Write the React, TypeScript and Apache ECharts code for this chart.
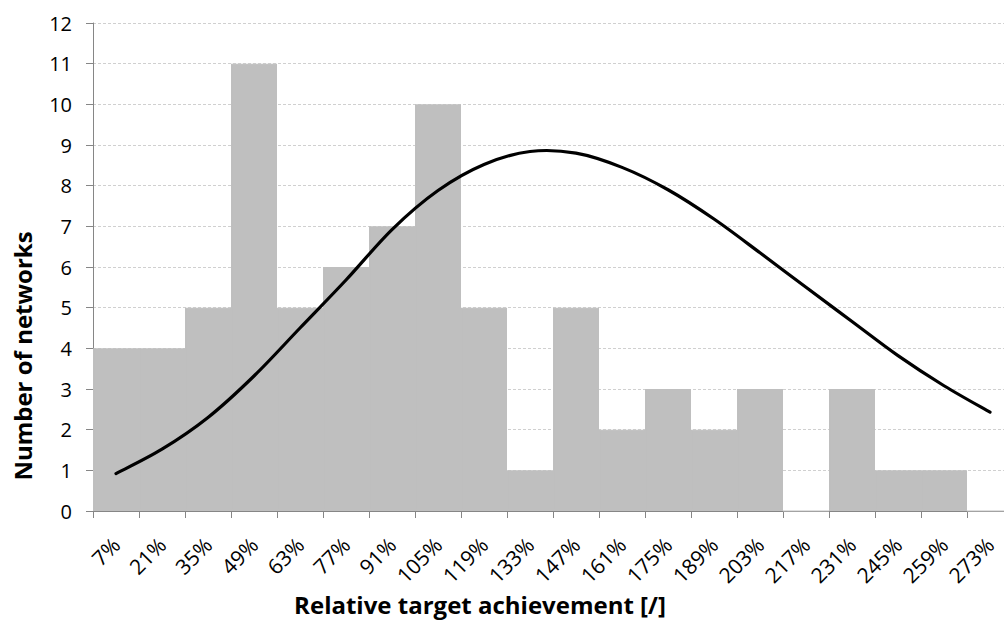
import React, { useEffect, useRef } from "react";
import * as echarts from "echarts";

const categories = ["7%", "21%", "35%", "49%", "63%", "77%", "91%", "105%", "119%", "133%", "147%", "161%", "175%", "189%", "203%", "217%", "231%", "245%", "259%", "273%"];
const counts = [4, 4, 5, 11, 5, 6, 7, 10, 5, 1, 5, 2, 3, 2, 3, 0, 3, 1, 1, 0];
const fitted = [0.92, 1.52, 2.3, 3.32, 4.5, 5.68, 6.92, 7.88, 8.52, 8.84, 8.8, 8.45, 7.9, 7.18, 6.35, 5.5, 4.66, 3.82, 3.08, 2.43];
const yTicks = { min: 0, max: 12, interval: 1 };

const FONT = '"Open Sans", "DejaVu Sans", sans-serif';

function curvePath(pts: number[][]): string {
  // Catmull-Rom spline converted to cubic Bezier segments
  let d = `M${pts[0][0]},${pts[0][1]}`;
  for (let i = 0; i < pts.length - 1; i++) {
    const p0 = pts[i - 1] || pts[i];
    const p1 = pts[i];
    const p2 = pts[i + 1];
    const p3 = pts[i + 2] || pts[i + 1];
    const c1x = p1[0] + (p2[0] - p0[0]) / 6;
    const c1y = p1[1] + (p2[1] - p0[1]) / 6;
    const c2x = p2[0] - (p3[0] - p1[0]) / 6;
    const c2y = p2[1] - (p3[1] - p1[1]) / 6;
    d += ` C${c1x},${c1y} ${c2x},${c2y} ${p2[0]},${p2[1]}`;
  }
  return d;
}

export default function App() {
  const ref = useRef<HTMLDivElement>(null);
  useEffect(() => {
    if (!ref.current) return;
    const chart = echarts.init(ref.current, null, { renderer: "svg" });
    chart.setOption({
      animation: false,
      backgroundColor: "#ffffff",
      grid: { left: 93, right: 0, top: 23, bottom: 115, containLabel: false },
      xAxis: {
        type: "category",
        data: categories,
        boundaryGap: true,
        axisLine: { lineStyle: { color: "#868686", width: 1 } },
        axisTick: { show: true, length: 7, lineStyle: { color: "#868686" } },
        axisLabel: {
          rotate: 45,
          margin: 30,
          interval: 0,
          color: "#000000",
          fontFamily: FONT,
          fontSize: 21,
        },
        splitLine: { show: false },
      },
      yAxis: {
        type: "value",
        min: yTicks.min,
        max: yTicks.max,
        interval: yTicks.interval,
        axisLine: { show: true, lineStyle: { color: "#868686", width: 1 } },
        axisTick: { show: true, length: 7, lineStyle: { color: "#868686" } },
        axisLabel: { margin: 21, color: "#000000", fontFamily: FONT, fontSize: 20 },
        splitLine: { show: true, lineStyle: { color: "#D0D0D0", width: 1, type: [3, 2] } },
      },
      graphic: [
        {
          type: "text",
          x: 22,
          y: 356,
          rotation: Math.PI / 2,
          style: {
            text: "Number of networks",
            font: `bold 24px ${FONT}`,
            fill: "#000000",
            textAlign: "center",
            textVerticalAlign: "middle",
          },
        },
        {
          type: "text",
          x: 480,
          y: 604,
          style: {
            text: "Relative target achievement [/]",
            font: `bold 24px ${FONT}`,
            fill: "#000000",
            textAlign: "center",
            textVerticalAlign: "middle",
          },
        },
      ],
      series: [
        {
          type: "bar",
          data: counts,
          barCategoryGap: "0%",
          itemStyle: { color: "#BFBFBF", borderColor: "#BFBFBF", borderWidth: 1.2 },
          z: 2,
        },
        {
          type: "custom",
          data: fitted.map((v, i) => [i, v]),
          encode: { x: 0, y: 1 },
          z: 3,
          renderItem: (params: any, api: any) => {
            if (params.dataIndex !== 0) return null;
            const pts = fitted.map((v, i) => api.coord([i, v]));
            return {
              type: "path",
              shape: { pathData: curvePath(pts) },
              style: { stroke: "#000000", lineWidth: 3.2, fill: "none", lineCap: "round", lineJoin: "round" },
            };
          },
        },
      ],
    });
    return () => chart.dispose();
  }, []);
  return <div ref={ref} style={{ position: "fixed", left: 0, top: 0, width: 1013, height: 626 }} />;
}
